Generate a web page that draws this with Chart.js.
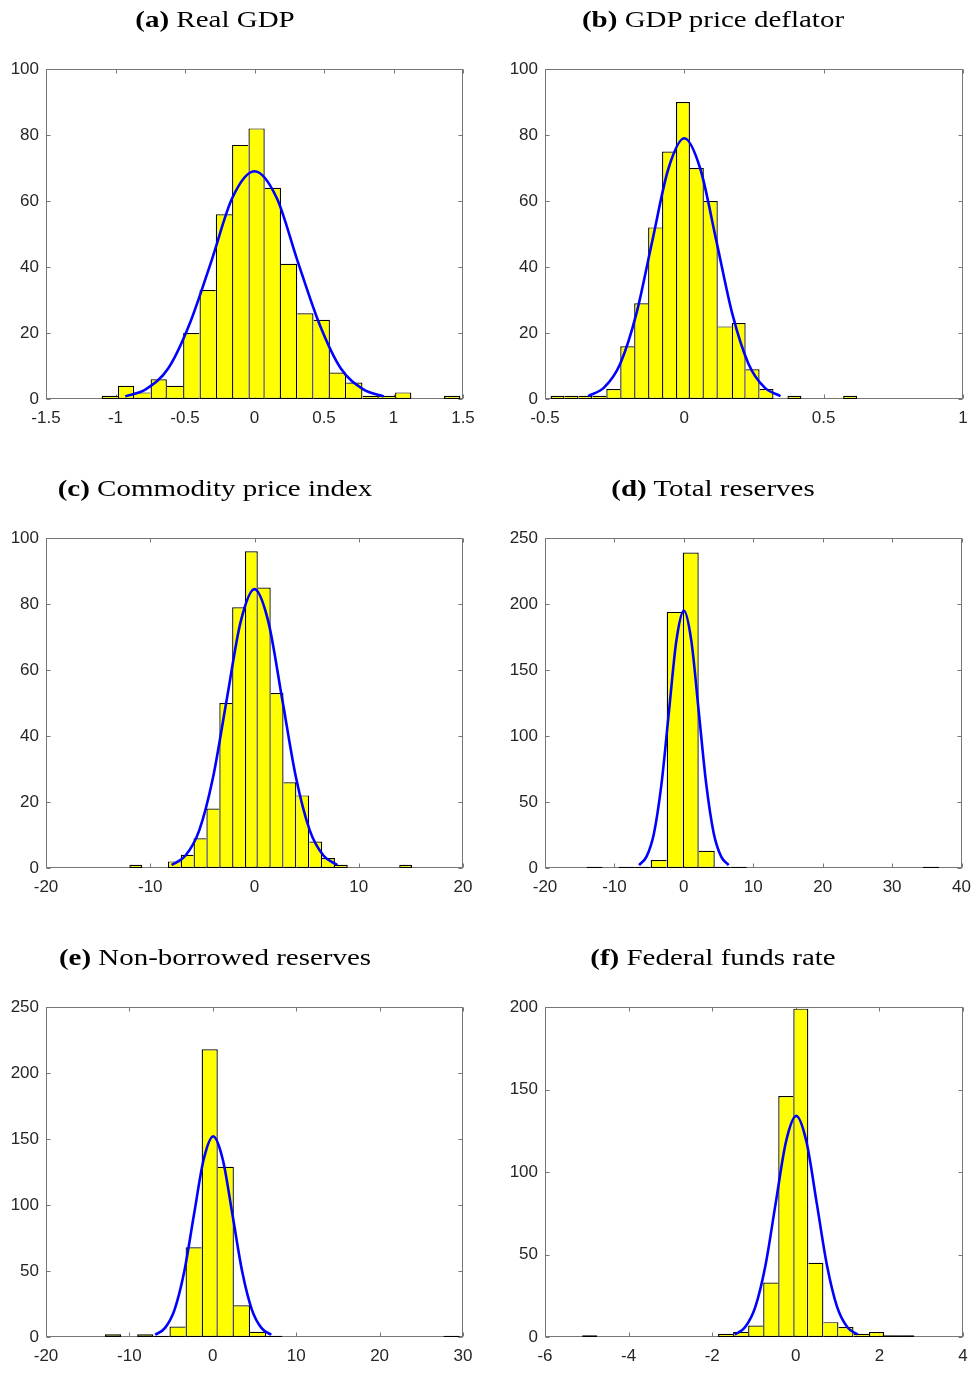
<!DOCTYPE html>
<html>
<head>
<meta charset="utf-8">
<script src="https://cdn.jsdelivr.net/npm/chart.js@4.4.1/dist/chart.umd.min.js"></script>
<style>
  body { margin: 0; background: #fff; }
  #page { position: relative; width: 980px; height: 1374px; overflow: hidden; }
  canvas { position: absolute; }
  .ttl {
    position: absolute; white-space: nowrap; color: #000;
    font: 23px/23px 'Liberation Serif', 'Times New Roman', serif;
    transform: translateX(-50%) scaleX(1.26); transform-origin: center;
  }
</style>
</head>
<body>
<div id="page"></div>
<script>
// panel titles
var titleTags  = ['(a)', '(b)', '(c)', '(d)', '(e)', '(f)'];
var titleTexts = ['Real GDP', 'GDP price deflator', 'Commodity price index',
                  'Total reserves', 'Non-borrowed reserves', 'Federal funds rate'];

// (a) Real GDP
var binsA   = [-1.041,-0.924,-0.807,-0.689,-0.572,-0.455,-0.337,-0.220,-0.103,0.015,0.132,
               0.249,0.366,0.484,0.601,0.718,0.836,0.953,1.070,1.187,1.305,1.422];
var countsA = [1,4,2,6,4,20,33,56,77,82,64,41,26,24,8,5,1,1,2,0,0,1];
var fitXA   = [-0.93,-0.78,-0.62,-0.47,-0.31,-0.16,0,0.16,0.31,0.47,0.62,0.78,0.93];
var fitYA   = [0.8,3.0,9.3,22.4,41.8,60.9,69,60.9,41.8,22.4,9.3,3.0,0.8];
var xTicksA = [-1.5,-1,-0.5,0,0.5,1,1.5];
var yTicksA = [0,20,40,60,80,100];

// (b) GDP price deflator
var binsB   = [-0.455,-0.405,-0.355,-0.305,-0.255,-0.205,-0.155,-0.105,-0.055,-0.005,0.045,
               0.095,0.145,0.195,0.245,0.295,0.345,0.395,0.445,0.495,0.545,0.595];
var countsB = [1,1,1,1,3,16,29,52,75,90,70,60,22,23,9,3,0,1,0,0,0,1];
var fitXB   = [-0.345,-0.2875,-0.23,-0.1725,-0.115,-0.0575,0,0.0575,0.115,0.1725,0.23,0.2875,0.345];
var fitYB   = [0.9,3.5,10.7,25.7,47.9,69.7,79,69.7,47.9,25.7,10.7,3.5,0.9];
var xTicksB = [-0.5,0,0.5,1];
var yTicksB = [0,20,40,60,80,100];

// (c) Commodity price index
var binsC   = [-11.39,-10.16,-8.93,-7.69,-6.46,-5.23,-4.00,-2.76,-1.53,-0.30,0.94,
               2.17,3.40,4.63,5.87,7.10,8.33,9.56,10.80,12.03,13.26,14.50];
var countsC = [1,0,0,2,4,9,18,50,79,96,85,53,26,22,8,3,1,0,0,0,0,1];
var fitXC   = [-7.95,-6.63,-5.3,-3.98,-2.65,-1.33,0,1.33,2.65,3.98,5.3,6.63,7.95];
var fitYC   = [0.9,3.7,11.4,27.4,51.3,74.6,84.5,74.6,51.3,27.4,11.4,3.7,0.9];
var xTicksC = [-20,-10,0,10,20];
var yTicksC = [0,20,40,60,80,100];

// (d) Total reserves
var binsD   = [-12.86,-10.55,-8.24,-5.94,-3.63,-1.32,0.99,3.30,5.60,7.91,10.22,
               12.53,14.83,17.14,19.45,21.75,24.06,26.37,28.68,30.98,33.29,35.60];
var countsD = [1,0,1,1,6,194,239,13,1,1,0,0,0,0,0,0,0,0,0,0,0,1];
var fitXD   = [-6.45,-5.38,-4.3,-3.23,-2.15,-1.08,0,1.08,2.15,3.23,4.3,5.38,6.45];
var fitYD   = [2.2,8.6,26.4,63.3,118.3,172.1,195,172.1,118.3,63.3,26.4,8.6,2.2];
var xTicksD = [-20,-10,0,10,20,30,40];
var yTicksD = [0,50,100,150,200,250];

// (e) Non-borrowed reserves
var binsE   = [-11.96,-10.03,-8.10,-6.17,-4.23,-2.30,-0.37,1.56,3.50,5.43,7.36,
               9.29,11.23,13.16,15.09,17.02,18.96,20.89,22.82,24.75,26.69,28.62];
var countsE = [2,0,2,1,8,68,218,129,24,4,1,0,0,0,0,0,0,0,0,0,0,1];
var fitXE   = [-6.91,-5.75,-4.59,-3.43,-2.27,-1.11,0.05,1.21,2.37,3.53,4.69,5.85,7.01];
var fitYE   = [1.7,6.7,20.6,49.4,92.2,134.1,152,134.1,92.2,49.4,20.6,6.7,1.7];
var xTicksE = [-20,-10,0,10,20,30];
var yTicksE = [0,50,100,150,200,250];

// (f) Federal funds rate
var binsF   = [-4.93,-4.57,-4.20,-3.84,-3.48,-3.12,-2.76,-2.40,-2.04,-1.68,-1.32,
               -0.96,-0.60,-0.24,0.12,0.48,0.84,1.20,1.57,1.93,2.29,2.65];
var countsF = [1,0,0,0,0,0,0,0,0,2,3,7,33,146,199,45,9,6,2,3,1,1];
var fitXF   = [-1.46,-1.215,-0.97,-0.725,-0.48,-0.235,0.01,0.255,0.5,0.745,0.99,1.235,1.48];
var fitYF   = [1.5,5.9,18.1,43.5,81.3,118.3,134,118.3,81.3,43.5,18.1,5.9,1.5];
var xTicksF = [-6,-4,-2,0,2,4];
var yTicksF = [0,50,100,150,200];

Chart.defaults.font.family = "'Liberation Sans', Arial, sans-serif";
Chart.defaults.font.size = 17;
Chart.defaults.color = '#262626';

// box round the axes with inward ticks on all four sides
var boxPlugin = {
  id: 'axesBox',
  beforeDatasetsDraw: function(chart) {
    var ctx = chart.ctx, a = chart.chartArea, sx = chart.scales.x, sy = chart.scales.y;
    var L = Math.round(a.left) + 0.5, R = Math.round(a.right) - 0.5;
    var T = Math.round(a.top) + 0.5, B = Math.round(a.bottom) - 0.5;
    ctx.save();
    ctx.strokeStyle = '#777';
    ctx.lineWidth = 1;
    ctx.strokeRect(L, T, R - L, B - T);
    ctx.beginPath();
    sx.ticks.forEach(function(t) {
      var p = Math.round(sx.getPixelForValue(t.value)) + 0.5;
      ctx.moveTo(p, B); ctx.lineTo(p, B - 4);
      ctx.moveTo(p, T); ctx.lineTo(p, T + 4);
    });
    sy.ticks.forEach(function(t) {
      var p = Math.round(sy.getPixelForValue(t.value)) + 0.5;
      ctx.moveTo(L, p); ctx.lineTo(L + 4, p);
      ctx.moveTo(R, p); ctx.lineTo(R - 4, p);
    });
    ctx.stroke();
    ctx.restore();
  }
};

var page = document.getElementById('page');

function histPanel(n, bins, counts, fitX, fitY, xTicks, yTicks) {
  var col = n % 2, row = Math.floor(n / 2);
  var cv = document.createElement('canvas');
  cv.width = 490; cv.height = 420;
  cv.style.left = (col * 490) + 'px';
  cv.style.top = (29 + row * 469) + 'px';
  page.appendChild(cv);

  var t = document.createElement('div');
  t.className = 'ttl';
  t.style.left = (col ? 713 : 215) + 'px';
  t.style.top = (8 + row * 469) + 'px';
  t.innerHTML = '<b>' + titleTags[n] + '</b> ' + titleTexts[n];
  page.appendChild(t);

  new Chart(cv.getContext('2d'), {
    type: 'bar',
    data: {
      datasets: [{
        type: 'line',
        data: fitX.map(function(x, i) { return {x: x, y: fitY[i]}; }),
        borderColor: '#0000ff',
        borderWidth: 2.6,
        pointRadius: 0,
        cubicInterpolationMode: 'monotone',
        fill: false,
        order: 0
      }, {
        type: 'bar',
        data: bins.map(function(x, i) { return {x: x, y: counts[i]}; }),
        backgroundColor: '#ffff00',
        borderColor: '#000',
        borderSkipped: false,
        inflateAmount: 0,
        barPercentage: 1,
        categoryPercentage: 1,
        borderWidth: function(c) {
          var i = c.dataIndex, h = counts[i];
          if (!h) return 0;
          var prev = i > 0 ? counts[i - 1] : 0;
          var next = i < counts.length - 1 ? counts[i + 1] : 0;
          return {top: 1.2, bottom: 1.2, left: prev < h ? 1.3 : 0, right: h >= next ? 1.3 : 0};
        },
        order: 1
      }]
    },
    options: {
      responsive: false,
      animation: false,
      layout: { padding: { top: 40, right: col ? 17 : 27, left: 0, bottom: 0 } },
      plugins: { legend: { display: false }, tooltip: { enabled: false } },
      scales: {
        x: {
          type: 'linear',
          offset: false,
          min: xTicks[0],
          max: xTicks[xTicks.length - 1],
          grid: { display: false, drawTicks: false },
          border: { display: false },
          ticks: { padding: 9, autoSkip: false, maxRotation: 0,
                   callback: function(v) { return String(v); } },
          afterBuildTicks: function(s) { s.ticks = xTicks.map(function(v) { return {value: v}; }); },
          afterFit: function(s) { s.height = 50; }
        },
        y: {
          min: yTicks[0],
          max: yTicks[yTicks.length - 1],
          grid: { display: false, drawTicks: false },
          border: { display: false },
          ticks: { padding: 7, callback: function(v) { return String(v); } },
          afterBuildTicks: function(s) { s.ticks = yTicks.map(function(v) { return {value: v}; }); },
          afterFit: function(s) { s.width = col ? 55 : 46; }
        }
      }
    },
    plugins: [boxPlugin]
  });
}

histPanel(0, binsA, countsA, fitXA, fitYA, xTicksA, yTicksA);
histPanel(1, binsB, countsB, fitXB, fitYB, xTicksB, yTicksB);
histPanel(2, binsC, countsC, fitXC, fitYC, xTicksC, yTicksC);
histPanel(3, binsD, countsD, fitXD, fitYD, xTicksD, yTicksD);
histPanel(4, binsE, countsE, fitXE, fitYE, xTicksE, yTicksE);
histPanel(5, binsF, countsF, fitXF, fitYF, xTicksF, yTicksF);
</script>
</body>
</html>
